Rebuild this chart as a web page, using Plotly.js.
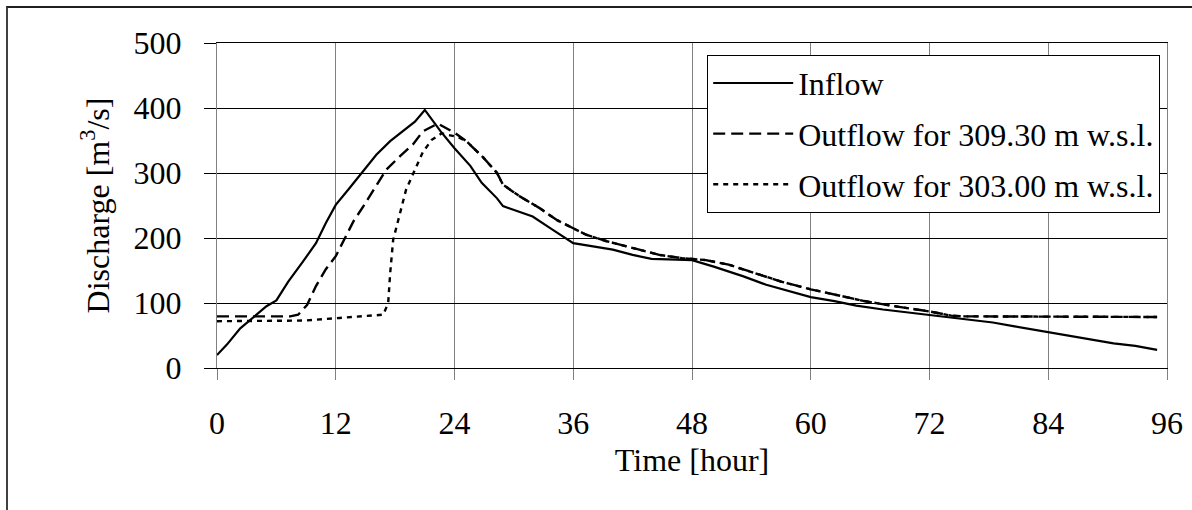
<!DOCTYPE html>
<html>
<head>
<meta charset="utf-8">
<script src="https://cdn.plot.ly/plotly-3.0.1.min.js"></script>
<style>
  html, body { margin: 0; padding: 0; background: #fff; overflow: hidden; }
  #chart { position: absolute; left: 0; top: 0; width: 1192px; height: 510px; }
  #frame { position: absolute; left: 6px; top: 6px; width: 1300px; height: 700px;
           border-left: 2px solid #404040; border-top: 2px solid #202020; pointer-events: none; }
</style>
</head>
<body>
<div id="chart"></div>
<div id="frame"></div>
<script>
// Inflow hydrograph
const inflowHours = [0,1,2.35,3.7,5,6,7.2,8.7,10,11,12,13.4,14.8,16.1,17.5,18.8,20,21,22.6,24,25.6,26.75,28.3,28.9,30.2,31.9,33.9,36,38,40,42,43.9,45.6,48,50.2,53.2,55.5,57.8,60,62.4,64.6,67.3,70,72,74.6,76.8,78.4,80.6,84,87.5,90.6,92.8,95];
const inflowValues = [20,36,61,79,95,104,133,164,192,223,251,277,303,328,349,364,379,397,364,338,311,285,261,249,242,233,213,192,187,182,174,168,167,166,156,141,128,118,109,103,96,90,85,82,77,72,70,64,55,46,38,34,28];

// Outflow for 309.30 m w.s.l.
const out309Hours = [0,7.4,8.2,9.1,10,11,12,12.8,13.8,14.8,15.8,17.1,18.5,19.8,20.8,21.8,22.3,24,25.2,26.9,28.3,28.9,30.6,32.6,34.3,36,37.3,39.4,42,44.7,47,48,49.4,51.7,54.7,57,60,62.4,65.4,68.5,72,74.2,75.3,85,95];
const out309Values = [79.5,79.5,82,97,126,152,172,197,226,249,274,305,326,344,364,372,376,362,349,324,300,282,264,246,228,215,205,195,185,174,169,168,166,159,144,133,121,113,103,95,87,80.5,79.5,79,78.5];

// Outflow for 303.00 m w.s.l.
const out303Hours = [0,6,8.9,12.4,15,16.8,17.3,17.5,17.8,18.3,19.1,20,20.8,21.7,22.7,24.4,25.2,26.9,28.3,28.9,30.6,32.6,34.3,36,37.3,39.4,42,44.7,47,48,49.4,51.7,54.7,57,60,62.4,65.4,68.5,72,74.2,75.3,85,95];
const out303Values = [72,72,73,77,79.5,82,100,146,197,228,274,305,332,351,361,355,349,324,300,282,264,246,228,215,205,195,185,174,169,168,166,159,144,133,121,113,103,95,87,80.5,79.5,79,78.5];

const seriesNames = ["Inflow", "Outflow for 309.30 m w.s.l.", "Outflow for 303.00 m w.s.l."];
const xTicks = [0,12,24,36,48,60,72,84,96];
const yTicks = [0,100,200,300,400,500];

const FONT = "Liberation Serif, Times New Roman, serif";

const traces = [
  {x: inflowHours, y: inflowValues, name: seriesNames[0], legendgroup: "a",
   mode: "lines", line: {color: "#000", width: 2.2}},
  {x: out309Hours, y: out309Values, name: seriesNames[1], legendgroup: "b",
   mode: "lines", line: {color: "#000", width: 2.4, dash: "12px,6px"}},
  {x: out303Hours, y: out303Values, name: seriesNames[2], legendgroup: "c",
   mode: "lines", line: {color: "#000", width: 2.4, dash: "5px,5px"}}
];

const layout = {
  width: 1192, height: 510,
  margin: {l: 217, r: 25, t: 43, b: 142, pad: 0},
  paper_bgcolor: "rgba(0,0,0,0)",
  plot_bgcolor: "#fff",
  font: {family: FONT, size: 32, color: "#000"},
  showlegend: true,
  legend: {
    x: 0.516, y: 0.964, xanchor: "left", yanchor: "top",
    bgcolor: "#fff", bordercolor: "#000", borderwidth: 1,
    font: {family: FONT, size: 32, color: "#000"},
    tracegroupgap: 6, itemwidth: 80, traceorder: "grouped"
  },
  xaxis: {
    range: [0, 96], tickvals: xTicks, ticktext: xTicks.map(String),
    showgrid: true, gridcolor: "#808080", gridwidth: 1,
    showline: true, linecolor: "#000", linewidth: 1, mirror: true,
    ticks: "outside", ticklen: 11, tickcolor: "#808080", tickwidth: 1,
    ticklabelstandoff: 16,
    zeroline: false, fixedrange: true,
    title: {text: "Time [hour]", font: {family: FONT, size: 32, color: "#000"}, standoff: 8}
  },
  yaxis: {
    range: [0, 500], tickvals: yTicks, ticktext: yTicks.map(String),
    showgrid: true, gridcolor: "#000", gridwidth: 1,
    showline: true, linecolor: "#808080", linewidth: 1, mirror: true,
    ticks: "outside", ticklen: 12, tickcolor: "#000", tickwidth: 1,
    ticklabelstandoff: 16,
    zeroline: false, fixedrange: true,
    title: {text: "Discharge [m<sup>3</sup>/s]", font: {family: FONT, size: 32, color: "#000"}, standoff: 14}
  }
};

Plotly.newPlot("chart", traces, layout, {staticPlot: true, displayModeBar: false});
</script>
</body>
</html>
